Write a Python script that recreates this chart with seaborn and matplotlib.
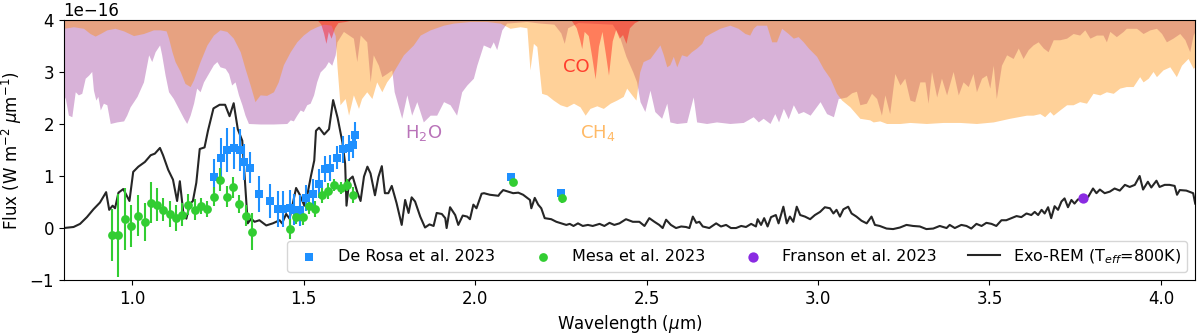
import numpy as np
import matplotlib
matplotlib.use("Agg")
import matplotlib.pyplot as plt
import seaborn as sns

# all fluxes in units of 1e-16 W m-2 um-1
model_wl = [0.800, 0.829, 0.848, 0.868, 0.887, 0.906, 0.924, 0.933, 0.943, 0.950, 0.960, 0.974, 0.992,
            1.003, 1.018, 1.037, 1.054, 1.066, 1.081, 1.090, 1.105, 1.119, 1.131, 1.139, 1.150, 1.158,
            1.168, 1.177, 1.187, 1.197, 1.211, 1.221, 1.237, 1.255, 1.271, 1.284, 1.296, 1.308, 1.321,
            1.331, 1.337, 1.347, 1.357, 1.371, 1.391, 1.410, 1.430, 1.437, 1.449, 1.459, 1.468, 1.478,
            1.488, 1.502, 1.512, 1.521, 1.531, 1.536, 1.545, 1.560, 1.574, 1.586, 1.599, 1.613, 1.621,
            1.625, 1.633, 1.643, 1.657, 1.666, 1.676, 1.686, 1.695, 1.708, 1.718, 1.728, 1.737, 1.747,
            1.757, 1.771, 1.786, 1.796, 1.806, 1.815, 1.825, 1.840, 1.854, 1.867, 1.879, 1.888, 1.903,
            1.913, 1.917, 1.927, 1.942, 1.951, 1.964, 1.977, 1.985, 1.995, 2.004, 2.019, 2.026, 2.043,
            2.068, 2.072, 2.082, 2.097, 2.111, 2.126, 2.140, 2.150, 2.160, 2.164, 2.174, 2.184, 2.193,
            2.203, 2.222, 2.237, 2.251, 2.266, 2.276, 2.287, 2.300, 2.314, 2.329, 2.343, 2.363, 2.377,
            2.392, 2.406, 2.421, 2.440, 2.460, 2.479, 2.494, 2.508, 2.523, 2.537, 2.547, 2.557, 2.571,
            2.586, 2.601, 2.615, 2.625, 2.635, 2.645, 2.654, 2.664, 2.683, 2.703, 2.717, 2.732, 2.746,
            2.761, 2.776, 2.790, 2.805, 2.819, 2.824, 2.834, 2.843, 2.853, 2.863, 2.877, 2.885, 2.899,
            2.909, 2.918, 2.928, 2.938, 2.948, 2.962, 2.977, 2.991, 3.006, 3.020, 3.035, 3.045, 3.054,
            3.064, 3.074, 3.088, 3.098, 3.112, 3.127, 3.142, 3.156, 3.166, 3.180, 3.200, 3.219, 3.239,
            3.258, 3.277, 3.297, 3.316, 3.336, 3.355, 3.375, 3.384, 3.399, 3.418, 3.433, 3.447, 3.462,
            3.477, 3.491, 3.506, 3.520, 3.535, 3.549, 3.564, 3.579, 3.593, 3.608, 3.622, 3.632, 3.642,
            3.652, 3.661, 3.671, 3.680, 3.690, 3.700, 3.710, 3.719, 3.729, 3.739, 3.748, 3.758, 3.773,
            3.788, 3.802, 3.812, 3.822, 3.836, 3.851, 3.865, 3.880, 3.895, 3.909, 3.924, 3.938, 3.948,
            3.962, 3.972, 3.987, 3.996, 4.011, 4.025, 4.040, 4.047, 4.055, 4.074, 4.094, 4.100]
model_flux = [0.00, 0.02, 0.08, 0.21, 0.36, 0.49, 0.69, 0.35, 0.43, 0.38, 0.68, 0.75, 0.52,
              1.08, 1.18, 1.27, 1.40, 1.43, 1.54, 1.40, 1.12, 0.93, 0.52, 0.90, 0.24, 0.18,
              0.46, 0.52, 0.87, 1.52, 1.55, 1.87, 2.30, 2.37, 2.37, 2.15, 2.40, 1.90, 1.68,
              0.68, 0.09, 0.18, 0.12, 0.15, 0.05, 0.09, 0.15, 0.09, 0.27, 0.18, 0.46, 0.77,
              0.65, 0.43, 0.68, 0.99, 1.30, 1.87, 1.93, 1.80, 1.90, 2.46, 2.12, 1.65, 1.24,
              0.43, 0.93, 0.99, 0.68, 0.52, 0.99, 1.18, 1.05, 0.63, 0.98, 1.19, 0.67, 0.67,
              0.81, 0.48, 0.06, 0.54, 0.29, 0.59, 0.51, 0.22, 0.01, 0.07, 0.04, 0.29, 0.27,
              0.19, 0.00, 0.40, 0.25, 0.06, 0.24, 0.22, 0.17, 0.45, 0.38, 0.66, 0.67, 0.64,
              0.62, 0.66, 0.73, 0.70, 0.67, 0.68, 0.64, 0.59, 0.54, 0.38, 0.58, 0.45, 0.38,
              0.19, 0.17, 0.12, 0.09, 0.06, 0.08, 0.04, 0.09, 0.04, 0.06, 0.04, 0.08, 0.04,
              0.10, 0.06, 0.09, 0.17, 0.12, 0.12, 0.04, 0.19, 0.12, 0.06, 0.00, 0.16, 0.06,
              0.00, 0.03, 0.02, 0.00, 0.22, 0.10, 0.12, 0.03, 0.00, 0.09, 0.03, 0.06, 0.00,
              0.00, 0.04, 0.02, 0.08, 0.03, 0.17, 0.06, 0.19, 0.03, 0.21, 0.25, 0.09, 0.41,
              0.09, 0.22, 0.12, 0.41, 0.25, 0.22, 0.17, 0.25, 0.31, 0.40, 0.38, 0.28, 0.35,
              0.22, 0.36, 0.41, 0.28, 0.22, 0.14, 0.09, 0.22, 0.06, 0.04, -0.01, -0.02, 0.01,
              0.06, 0.04, 0.03, -0.02, -0.01, 0.04, 0.00, 0.06, 0.00, 0.06, 0.04, -0.01, 0.08,
              0.04, 0.10, 0.08, 0.04, 0.15, 0.15, 0.19, 0.23, 0.21, 0.28, 0.25, 0.31, 0.25,
              0.35, 0.28, 0.40, 0.19, 0.42, 0.35, 0.51, 0.57, 0.40, 0.54, 0.47, 0.55, 0.56,
              0.60, 0.76, 0.67, 0.74, 0.67, 0.70, 0.76, 0.72, 0.83, 0.79, 0.83, 1.00, 0.74,
              0.89, 0.78, 0.91, 0.79, 0.83, 0.83, 0.81, 0.64, 0.73, 0.72, 0.67, 0.47]

derosa_wl = [1.238, 1.259, 1.277, 1.296, 1.314, 1.326, 1.345, 1.371, 1.403, 1.424, 1.439, 1.459,
             1.473, 1.490, 1.507, 1.527, 1.544, 1.561, 1.577, 1.597, 1.614, 1.631, 1.644, 1.651,
             2.106, 2.250]
derosa_flux = [0.98, 1.34, 1.50, 1.54, 1.50, 1.27, 1.16, 0.65, 0.52, 0.37, 0.37, 0.38,
               0.35, 0.34, 0.58, 0.66, 0.85, 1.13, 1.15, 1.35, 1.51, 1.53, 1.59, 1.78,
               0.99, 0.67]
derosa_err = [0.35, 0.40, 0.42, 0.40, 0.40, 0.35, 0.30, 0.35, 0.32, 0.35, 0.35, 0.35,
              0.30, 0.30, 0.25, 0.28, 0.28, 0.25, 0.25, 0.22, 0.25, 0.25, 0.25, 0.25,
              0.05, 0.05]

mesa_wl = [0.940, 0.960, 0.979, 0.997, 1.017, 1.036, 1.054, 1.073, 1.091, 1.109, 1.128, 1.146,
           1.164, 1.183, 1.202, 1.219, 1.238, 1.257, 1.276, 1.294, 1.312, 1.331, 1.349,
           1.459, 1.478, 1.497, 1.515, 1.534, 1.553, 1.571, 1.589, 1.608, 1.626, 1.644,
           2.110, 2.252]
mesa_flux = [-0.14, -0.14, 0.17, 0.04, 0.24, 0.12, 0.49, 0.45, 0.35, 0.27, 0.19, 0.26,
             0.45, 0.35, 0.42, 0.37, 0.60, 0.93, 0.60, 0.78, 0.46, 0.24, -0.07,
             -0.02, 0.22, 0.21, 0.42, 0.37, 0.63, 0.71, 0.83, 0.77, 0.83, 0.63,
             0.88, 0.58]
mesa_err = [0.50, 0.80, 0.60, 0.40, 0.40, 0.37, 0.40, 0.32, 0.22, 0.25, 0.25, 0.22,
            0.20, 0.20, 0.15, 0.15, 0.18, 0.22, 0.20, 0.20, 0.18, 0.20, 0.35,
            0.20, 0.15, 0.15, 0.15, 0.15, 0.15, 0.15, 0.12, 0.12, 0.12, 0.15,
            0.08, 0.10]

franson_wl = [3.773]
franson_flux = [0.57]

# lower edges of the molecular absorption bands (filled up to the top of the plot)
h2o_wl = [0.800, 0.805, 0.814, 0.824, 0.834, 0.843, 0.853, 0.863, 0.873, 0.882, 0.887, 0.894, 0.900,
          0.907, 0.916, 0.926, 0.936, 0.955, 0.975, 0.984, 0.994, 1.014, 1.033, 1.048, 1.057, 1.067,
          1.080, 1.086, 1.096, 1.106, 1.120, 1.135, 1.150, 1.159, 1.169, 1.179, 1.188, 1.198, 1.208,
          1.222, 1.237, 1.247, 1.256, 1.271, 1.281, 1.290, 1.300, 1.310, 1.320, 1.329, 1.339, 1.373,
          1.412, 1.451, 1.461, 1.470, 1.480, 1.490, 1.499, 1.509, 1.519, 1.529, 1.538, 1.548, 1.563,
          1.572, 1.582, 1.592, 1.597, 1.616, 1.645, 1.655, 1.665, 1.684, 1.694, 1.703, 1.718, 1.728,
          1.742, 1.757, 1.764, 1.786, 1.801, 1.815, 1.830, 1.849, 1.869, 1.888, 1.908, 1.927, 1.946,
          1.961, 1.976, 1.995, 2.005, 2.024, 2.044, 2.053, 2.063, 2.078, 2.092, 2.150, 2.190, 2.230,
          2.250, 2.260, 2.270, 2.300, 2.400, 2.420, 2.440, 2.460, 2.471, 2.481, 2.495, 2.510, 2.524,
          2.544, 2.559, 2.568, 2.588, 2.617, 2.636, 2.646, 2.675, 2.704, 2.743, 2.782, 2.811, 2.826,
          2.840, 2.860, 2.874, 2.885, 2.899, 2.913, 2.928, 2.942, 2.957, 2.977, 3.006, 3.025, 3.045,
          3.059, 3.069, 3.083, 3.098, 3.112, 3.122, 3.141, 3.156, 3.171, 3.185, 3.195, 3.209, 3.224,
          3.239, 3.253, 3.268, 3.282, 3.297, 3.312, 3.321, 3.331, 3.346, 3.360, 3.375, 3.394, 3.409,
          3.423, 3.438, 3.452, 3.462, 3.477, 3.491, 3.501, 3.511, 3.520, 3.535, 3.550, 3.569, 3.584,
          3.598, 3.613, 3.627, 3.642, 3.657, 3.671, 3.686, 3.705, 3.725, 3.744, 3.763, 3.778, 3.793,
          3.812, 3.831, 3.841, 3.851, 3.870, 3.890, 3.899, 3.929, 3.948, 3.968, 3.987, 4.002, 4.016,
          4.035, 4.055, 4.070, 4.084, 4.094, 4.104]
h2o_low = [2.55, 2.49, 2.17, 2.14, 2.62, 2.56, 2.59, 2.88, 2.94, 3.01, 2.65, 2.46, 2.53,
           2.27, 2.40, 2.37, 2.01, 2.04, 2.06, 2.17, 2.33, 2.53, 2.81, 3.33, 3.20, 3.39,
           3.52, 3.33, 2.94, 2.62, 2.49, 2.30, 2.11, 2.01, 2.17, 2.40, 2.69, 2.62, 2.81,
           2.97, 3.14, 3.20, 3.10, 3.07, 2.97, 2.75, 2.81, 2.56, 2.37, 2.17, 2.01, 2.00,
           2.00, 2.01, 2.08, 2.06, 2.17, 2.27, 2.24, 2.37, 2.40, 2.56, 2.81, 3.00, 3.10,
           3.20, 3.13, 3.33, 3.58, 3.78, 3.65, 3.20, 3.71, 3.58, 2.81, 3.33, 3.13, 2.91,
           2.97, 3.04, 2.62, 2.11, 2.56, 2.17, 2.43, 2.04, 2.17, 2.17, 2.43, 2.37, 2.17,
           2.62, 2.75, 2.88, 3.13, 3.52, 3.46, 3.58, 3.43, 3.81, 3.94, 3.97, 3.94, 3.92,
           3.75, 3.55, 3.85, 3.95, 3.92, 3.70, 3.30, 3.00, 2.81, 2.43, 2.24, 2.65, 2.24,
           2.11, 2.40, 2.04, 2.01, 2.03, 2.52, 2.04, 2.01, 2.04, 2.01, 2.03, 2.14, 2.04,
           2.11, 2.01, 2.20, 2.04, 2.30, 2.10, 2.37, 2.20, 2.24, 2.17, 2.43, 2.20, 2.14,
           2.49, 2.50, 2.52, 2.60, 2.63, 2.37, 2.40, 2.59, 2.49, 2.17, 2.56, 2.20, 2.97,
           2.75, 2.88, 2.46, 2.43, 2.81, 2.81, 2.40, 3.01, 2.52, 2.88, 2.56, 3.01, 2.56,
           2.81, 2.72, 2.97, 2.62, 2.88, 2.94, 2.69, 3.13, 2.49, 3.13, 3.33, 3.26, 3.46,
           3.26, 3.43, 3.52, 3.58, 3.46, 3.39, 3.62, 3.62, 3.65, 3.74, 3.71, 3.81, 3.65,
           3.71, 3.71, 3.58, 3.78, 3.68, 3.78, 3.84, 3.84, 3.74, 3.81, 3.84, 3.74, 3.58,
           3.65, 3.74, 3.62, 3.39, 3.71, 3.84]

ch4_wl = [0.800, 0.829, 0.858, 0.877, 0.892, 0.907, 0.926, 0.950, 0.975, 1.004, 1.033, 1.062, 1.081,
          1.099, 1.106, 1.116, 1.125, 1.140, 1.154, 1.169, 1.179, 1.198, 1.218, 1.237, 1.256, 1.276,
          1.295, 1.315, 1.329, 1.344, 1.358, 1.373, 1.392, 1.412, 1.426, 1.441, 1.461, 1.480, 1.499,
          1.519, 1.538, 1.558, 1.580, 1.592, 1.597, 1.606, 1.621, 1.631, 1.645, 1.660, 1.669, 1.684,
          1.699, 1.713, 1.728, 1.742, 1.757, 1.762, 1.791, 1.820, 1.840, 1.869, 1.908, 1.937, 1.985,
          2.034, 2.073, 2.102, 2.131, 2.151, 2.160, 2.170, 2.180, 2.194, 2.209, 2.228, 2.248, 2.267,
          2.287, 2.306, 2.321, 2.335, 2.355, 2.374, 2.394, 2.413, 2.432, 2.442, 2.457, 2.469, 2.480,
          2.490, 2.510, 2.529, 2.539, 2.549, 2.559, 2.568, 2.578, 2.588, 2.602, 2.617, 2.631, 2.646,
          2.661, 2.670, 2.685, 2.714, 2.743, 2.767, 2.787, 2.801, 2.811, 2.821, 2.850, 2.865, 2.879,
          2.894, 2.913, 2.928, 2.942, 2.957, 2.972, 2.996, 3.015, 3.035, 3.054, 3.069, 3.093, 3.122,
          3.151, 3.161, 3.180, 3.200, 3.239, 3.268, 3.316, 3.365, 3.414, 3.462, 3.511, 3.559, 3.608,
          3.627, 3.647, 3.661, 3.676, 3.686, 3.705, 3.725, 3.744, 3.763, 3.783, 3.802, 3.822, 3.841,
          3.861, 3.880, 3.899, 3.919, 3.938, 3.948, 3.963, 3.977, 3.987, 4.006, 4.026, 4.045, 4.060,
          4.079, 4.094, 4.104]
ch4_low = [3.84, 3.87, 3.84, 3.74, 3.69, 3.74, 3.81, 3.84, 3.79, 3.70, 3.74, 3.81, 3.81,
           3.79, 3.65, 3.39, 3.20, 3.01, 2.78, 2.72, 2.85, 3.20, 3.52, 3.71, 3.81, 3.78,
           3.65, 3.39, 3.07, 2.75, 2.43, 2.56, 2.55, 2.62, 2.81, 3.14, 3.39, 3.58, 3.71,
           3.81, 3.87, 3.92, 3.90, 3.70, 3.13, 2.37, 2.49, 2.17, 2.56, 2.30, 2.49, 2.62,
           2.49, 2.81, 2.62, 2.81, 2.94, 3.01, 3.33, 3.52, 3.71, 3.81, 3.90, 3.94, 3.97,
           3.97, 3.94, 3.84, 3.87, 3.85, 3.04, 3.55, 3.49, 2.59, 2.56, 2.46, 2.37, 2.33,
           2.40, 2.33, 2.17, 2.30, 2.35, 2.30, 2.40, 2.46, 2.53, 2.69, 2.56, 2.46, 3.00,
           3.20, 3.26, 3.43, 3.52, 3.33, 3.10, 3.14, 3.30, 3.10, 3.33, 3.30, 3.39, 3.46,
           3.55, 3.68, 3.74, 3.84, 3.90, 3.84, 3.74, 3.71, 3.84, 3.90, 3.90, 3.58, 3.58,
           3.84, 3.74, 3.65, 3.68, 3.58, 3.46, 3.30, 3.07, 2.88, 2.59, 2.46, 2.33, 2.11,
           2.08, 2.04, 2.06, 2.01, 2.01, 2.03, 2.01, 2.03, 2.03, 2.01, 2.04, 2.11, 2.17,
           2.17, 2.20, 2.14, 2.24, 2.17, 2.27, 2.37, 2.37, 2.43, 2.40, 2.59, 2.56, 2.62,
           2.59, 2.69, 2.72, 2.72, 2.91, 2.81, 2.88, 3.01, 2.91, 3.04, 3.10, 2.91, 3.13,
           3.26, 3.07, 3.13]

co_wl = [1.540, 1.550, 1.558, 1.565, 1.572, 1.580, 1.590, 1.600, 1.620, 1.640, 2.280, 2.295, 2.305,
         2.311, 2.318, 2.330, 2.340, 2.350, 2.360, 2.370, 2.380, 2.389, 2.400, 2.410, 2.420, 2.430,
         2.440, 2.450, 2.465, 2.480]
co_low = [4.00, 3.92, 3.75, 3.55, 3.78, 3.65, 3.85, 3.95, 3.97, 4.00, 4.00, 3.85, 3.62,
          3.45, 3.78, 3.70, 3.30, 2.87, 3.50, 3.78, 3.35, 2.94, 3.60, 3.82, 3.65, 3.72,
          3.55, 3.85, 3.95, 4.00]

SCALE = 1e-16
TOP = 4.0

fig, ax = plt.subplots(figsize=(12, 3.33), dpi=100)

bands = [(h2o_wl, h2o_low, "purple", 0.3),
         (ch4_wl, ch4_low, "darkorange", 0.4),
         (co_wl, co_low, "red", 0.4)]
for wl, low, col, a in bands:
    ax.fill_between(wl, np.array(low) * SCALE, TOP * SCALE, color=col, alpha=a, lw=0)

ax.text(1.851, 1.83 * SCALE, r"H$_2$O", color="purple", alpha=0.55, fontsize=13, ha="center", va="center")
ax.text(2.358, 1.83 * SCALE, r"CH$_4$", color="darkorange", alpha=0.6, fontsize=13, ha="center", va="center")
ax.text(2.294, 3.10 * SCALE, "CO", color="red", alpha=0.7, fontsize=13, ha="center", va="center")

sns.lineplot(x=model_wl, y=np.array(model_flux) * SCALE, color="k", lw=1.5, alpha=0.85,
             label=r"Exo-REM (T$_{eff}$=800K)", ax=ax)

ax.errorbar(derosa_wl, np.array(derosa_flux) * SCALE, yerr=np.array(derosa_err) * SCALE,
            fmt="none", ecolor="dodgerblue", elinewidth=1.5)
ax.errorbar(mesa_wl, np.array(mesa_flux) * SCALE, yerr=np.array(mesa_err) * SCALE,
            fmt="none", ecolor="limegreen", elinewidth=1.5)
sns.scatterplot(x=derosa_wl, y=np.array(derosa_flux) * SCALE, marker="s", color="dodgerblue",
                s=40, linewidth=0, label="De Rosa et al. 2023", ax=ax, zorder=3)
sns.scatterplot(x=mesa_wl, y=np.array(mesa_flux) * SCALE, marker="o", color="limegreen",
                s=40, linewidth=0, label="Mesa et al. 2023", ax=ax, zorder=3)
sns.scatterplot(x=franson_wl, y=np.array(franson_flux) * SCALE, marker="o", color="blueviolet",
                s=55, linewidth=0, label="Franson et al. 2023", ax=ax, zorder=3)

ax.set_xlim(0.8, 4.1)
ax.set_ylim(-1 * SCALE, TOP * SCALE)
ax.set_xlabel(r"Wavelength ($\mu$m)", fontsize=12)
ax.set_ylabel(r"Flux (W m$^{-2}$ $\mu$m$^{-1}$)", fontsize=12)
ax.tick_params(labelsize=12)
ax.yaxis.get_offset_text().set_fontsize(12)

handles, labels = ax.get_legend_handles_labels()
order = [labels.index(l) for l in ["De Rosa et al. 2023", "Mesa et al. 2023",
                                   "Franson et al. 2023", r"Exo-REM (T$_{eff}$=800K)"]]
ax.legend([handles[i] for i in order], [labels[i] for i in order], ncol=4,
          loc="lower right", fontsize=11.5)

fig.subplots_adjust(left=0.053, right=0.996, top=0.94, bottom=0.159)
fig.savefig("out.png", dpi=100)
